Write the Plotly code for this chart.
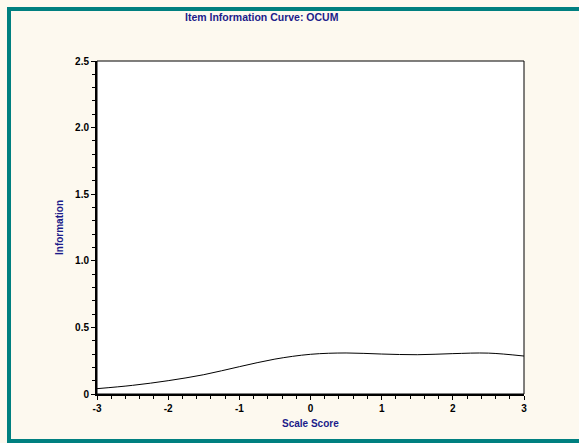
import plotly.graph_objects as go

# Item information for the OCUM item across the scale score range
scale_score = [-3.0, -2.5, -2.0, -1.5, -1.0, -0.5, 0.0, 0.5, 1.0, 1.5, 2.0, 2.5, 3.0]
information = [0.040, 0.065, 0.100, 0.145, 0.205, 0.262, 0.298, 0.308, 0.300, 0.295, 0.303, 0.307, 0.285]

y_tick_vals = [0, 0.5, 1.0, 1.5, 2.0, 2.5]
y_tick_text = ["0", "0.5", "1.0", "1.5", "2.0", "2.5"]
x_tick_vals = [-3, -2, -1, 0, 1, 2, 3]
x_tick_text = ["-3", "-2", "-1", "0", "1", "2", "3"]

W, H = 579, 443
L, R, T, B = 97, 55, 61, 49
pw, ph = W - L - R, H - T - B


def px_x(p):
    return (p - L) / pw


def px_y(p):
    return (H - B - p) / ph


navy = "#1c1c8a"
teal = "#008080"

fig = go.Figure()
fig.add_trace(go.Scatter(
    x=scale_score, y=information, mode="lines",
    line=dict(color="#000000", width=1, shape="spline", smoothing=1.0),
    hoverinfo="skip", showlegend=False,
))


def frame_line(x0, y0, x1, y1):
    return dict(type="line", xref="paper", yref="paper",
                x0=px_x(x0), y0=px_y(y0), x1=px_x(x1), y1=px_y(y1),
                line=dict(color=teal, width=4), layer="below")


fig.update_layout(
    width=W, height=H,
    margin=dict(l=L, r=R, t=T, b=B),
    paper_bgcolor="#fdf9ef",
    plot_bgcolor="#ffffff",
    showlegend=False,
    xaxis=dict(
        range=[-3, 3], tickvals=x_tick_vals, ticktext=[f"<b>{t}</b>" for t in x_tick_text],
        showgrid=False, zeroline=False, showline=True, linecolor="#000000", linewidth=2,
        ticks="outside", ticklen=4, tickwidth=1, tickcolor="#000000",
        minor=dict(dtick=0.2, ticks="outside", ticklen=3, tickcolor="#000000", showgrid=False),
        tickfont=dict(family="Liberation Sans, Arial", size=10, color="#000000"),
        fixedrange=True,
    ),
    yaxis=dict(
        range=[0, 2.5], tickvals=y_tick_vals, ticktext=[f"<b>{t}</b>" for t in y_tick_text],
        showgrid=False, zeroline=False, showline=True, linecolor="#000000", linewidth=2,
        ticks="outside", ticklen=4, tickwidth=1, tickcolor="#000000",
        minor=dict(dtick=0.1, ticks="outside", ticklen=3, tickcolor="#000000", showgrid=False),
        tickfont=dict(family="Liberation Sans, Arial", size=10, color="#000000"),
        fixedrange=True,
    ),
    shapes=[
        # plot box
        dict(type="rect", xref="paper", yref="paper", x0=0, y0=0, x1=1, y1=1,
             line=dict(color="#000000", width=1), layer="above"),
        # outer teal frame: left, top and bottom edges run off the page on the right
        frame_line(9, 7, 9, 443),
        frame_line(7, 9, 600, 9),
        frame_line(7, 441, 600, 441),
    ],
    annotations=[
        dict(text="<b>Item Information Curve: OCUM</b>", xref="paper", yref="paper",
             x=px_x(262), y=px_y(17), xanchor="center", yanchor="middle", showarrow=False,
             font=dict(family="Liberation Sans, Arial", size=10.5, color=navy)),
        dict(text="<b>Scale Score</b>", xref="paper", yref="paper",
             x=px_x(310), y=px_y(423), xanchor="center", yanchor="middle", showarrow=False,
             font=dict(family="Liberation Sans, Arial", size=10, color=navy)),
        dict(text="<b>Information</b>", xref="paper", yref="paper",
             x=px_x(59), y=px_y(228), xanchor="center", yanchor="middle", showarrow=False,
             textangle=-90,
             font=dict(family="Liberation Sans, Arial", size=10, color=navy)),
    ],
)

fig.write_html("out.html")
